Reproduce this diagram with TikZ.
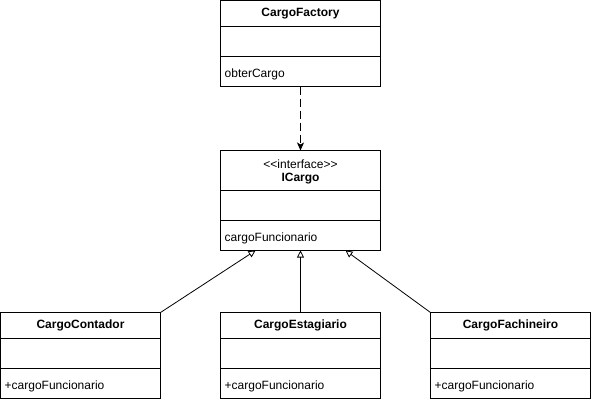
\documentclass[tikz,border=0pt]{standalone}
\usepackage{fontspec}
\setmainfont{Liberation Sans}
\usetikzlibrary{arrows.meta}
\newcommand\umlclass[8]{%
  % #1 name, #2 x left, #3 y top, #4 header height, #5 total height, #6 header text, #7 member text, #8 header text shift
  \node[classbox, minimum height=#5pt, anchor=north west] (#1) at (#2,#3) {};
  \draw[classline] (#2,#3+#4) -- ++(160,0);
  \draw[classline] (#2,#3+#4+30) -- ++(160,0);
  \node[headtext] (#1-head) at (#2+80,#3+#4/2+#8) {#6};
  \node[membertext] (#1-member) at (#2+4,#3+#4+48) {#7};
}
\begin{document}
\begin{tikzpicture}[x=1pt,y=-1pt,
  classbox/.style={draw, line width=1pt, minimum width=160pt, inner sep=0pt, outer sep=0pt},
  classline/.style={line width=1pt},
  headtext/.style={font=\fontsize{12}{14.5}\selectfont, align=center, inner sep=0pt},
  membertext/.style={font=\fontsize{12}{14}\selectfont, anchor=west, inner sep=0pt},
  realize/.style={line width=0.8pt, -{Triangle[open, length=7pt, width=7pt, line width=0.8pt]}},
  depend/.style={line width=1pt, dash pattern=on 8pt off 4pt, -{Stealth[length=8pt, width=7pt, inset=2pt]}}
]
\useasboundingbox (0,0) rectangle (591,402);
\fill[white] (0,0) rectangle (591,402);

\umlclass{factory}{220.5}{0.5}{26}{86}{\bfseries CargoFactory}{obterCargo}{0}
\umlclass{icargo}{220.5}{150.5}{40}{100}{<{}<interface>{}>\\[-1pt]\bfseries ICargo}{cargoFuncionario}{1.5}
\umlclass{contador}{0.5}{312.5}{26}{86}{\bfseries CargoContador}{+cargoFuncionario}{0}
\umlclass{estagiario}{220.5}{312.5}{26}{86}{\bfseries CargoEstagiario}{+cargoFuncionario}{0}
\umlclass{fachineiro}{430.5}{312.5}{26}{86}{\bfseries CargoFachineiro}{+cargoFuncionario}{0}

\coordinate (iL) at (255.5,250.5);
\coordinate (iR) at (345.5,250.5);

\draw[depend] (factory.south) -- (icargo.north);
\draw[realize] (contador.north east) -- (iL);
\draw[realize] (estagiario.north) -- (icargo.south);
\draw[realize] (fachineiro.north west) -- (iR);
\end{tikzpicture}
\end{document}
